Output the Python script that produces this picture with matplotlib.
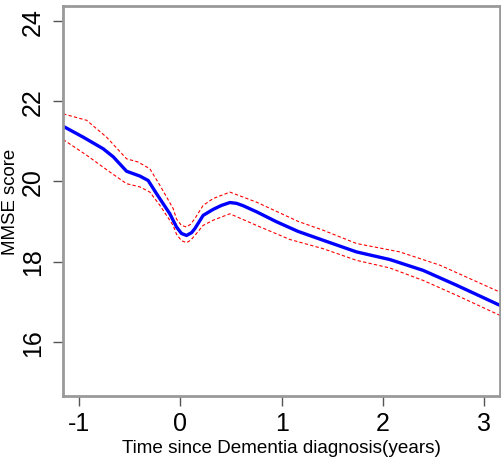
import matplotlib.pyplot as plt

plt.rcParams['font.family'] = ['Liberation Sans', 'DejaVu Sans']
plt.rcParams['axes.unicode_minus'] = False

# Curva ajustada (MMSE vs tiempo desde el diagnóstico)
x_fit = [-1.158, -0.961, -0.763, -0.664, -0.532, -0.401, -0.319, -0.236, -0.105,
         -0.039, 0.010, 0.060, 0.110, 0.142, 0.224, 0.323, 0.406, 0.488, 0.554,
         0.620, 0.751, 0.949, 1.162, 1.409, 1.738, 2.067, 2.396, 2.726, 3.153]
y_fit = [21.37, 21.10, 20.81, 20.61, 20.25, 20.13, 20.02, 19.69, 19.19,
         18.86, 18.70, 18.65, 18.72, 18.82, 19.15, 19.30, 19.40, 19.47, 19.45,
         19.39, 19.24, 18.99, 18.75, 18.53, 18.24, 18.05, 17.78, 17.41, 16.91]

# Banda superior
x_up = [-1.158, -0.927, -0.730, -0.532, -0.418, -0.302, -0.203, -0.072, -0.039,
        0.010, 0.060, 0.100, 0.142, 0.224, 0.323, 0.488, 0.751, 1.162, 1.409,
        1.738, 2.165, 2.561, 3.153]
y_up = [21.68, 21.52, 21.10, 20.56, 20.48, 20.31, 19.90, 19.32, 19.06,
        18.90, 18.86, 18.93, 19.07, 19.40, 19.57, 19.73, 19.48, 19.00, 18.78,
        18.45, 18.24, 17.91, 17.24]

# Banda inferior
x_low = [-1.158, -0.927, -0.697, -0.532, -0.401, -0.302, -0.203, -0.072, -0.039,
         0.010, 0.060, 0.100, 0.142, 0.224, 0.323, 0.488, 0.751, 1.080, 1.409,
         1.738, 2.067, 2.396, 2.726, 3.153]
y_low = [21.04, 20.65, 20.23, 19.94, 19.86, 19.73, 19.40, 18.90, 18.68,
         18.52, 18.47, 18.53, 18.65, 18.90, 19.03, 19.19, 18.90, 18.55, 18.32,
         18.03, 17.84, 17.53, 17.16, 16.66]

x_ticks = [-1, 0, 1, 2, 3]
y_ticks = [16, 18, 20, 22, 24]

fig = plt.figure(figsize=(5.01, 4.6), dpi=100)
ax = fig.add_axes([0.1257, 0.137, 0.8723, 0.848])

ax.plot(x_fit, y_fit, color='#0000ff', lw=2.4, solid_joinstyle='round')
ax.plot(x_up, y_up, color='#ff0000', lw=0.8, ls=(0, (3, 2)))
ax.plot(x_low, y_low, color='#ff0000', lw=0.8, ls=(0, (3, 2)))

ax.set_xlim(-1.16, 3.155)
ax.set_ylim(14.65, 24.37)
ax.set_xticks(x_ticks)
ax.set_yticks(y_ticks)
ax.set_yticklabels([str(v) for v in y_ticks], rotation=90, va='center')
ax.tick_params(labelsize=18, length=7, width=1, color='#555555', direction='out')
ax.tick_params(axis='y', pad=6)
ax.tick_params(axis='x', pad=4)

for s in ax.spines.values():
    s.set_color('#999999')
    s.set_linewidth(2)

ax.set_xlabel('Time since Dementia diagnosis(years)', fontsize=13.6, va='center')
ax.xaxis.set_label_coords(0.5, -0.131)
ax.set_ylabel('MMSE score', fontsize=13.4, va='center')
ax.yaxis.set_label_coords(-0.12, 0.5)

fig.savefig('out.png', dpi=100)
